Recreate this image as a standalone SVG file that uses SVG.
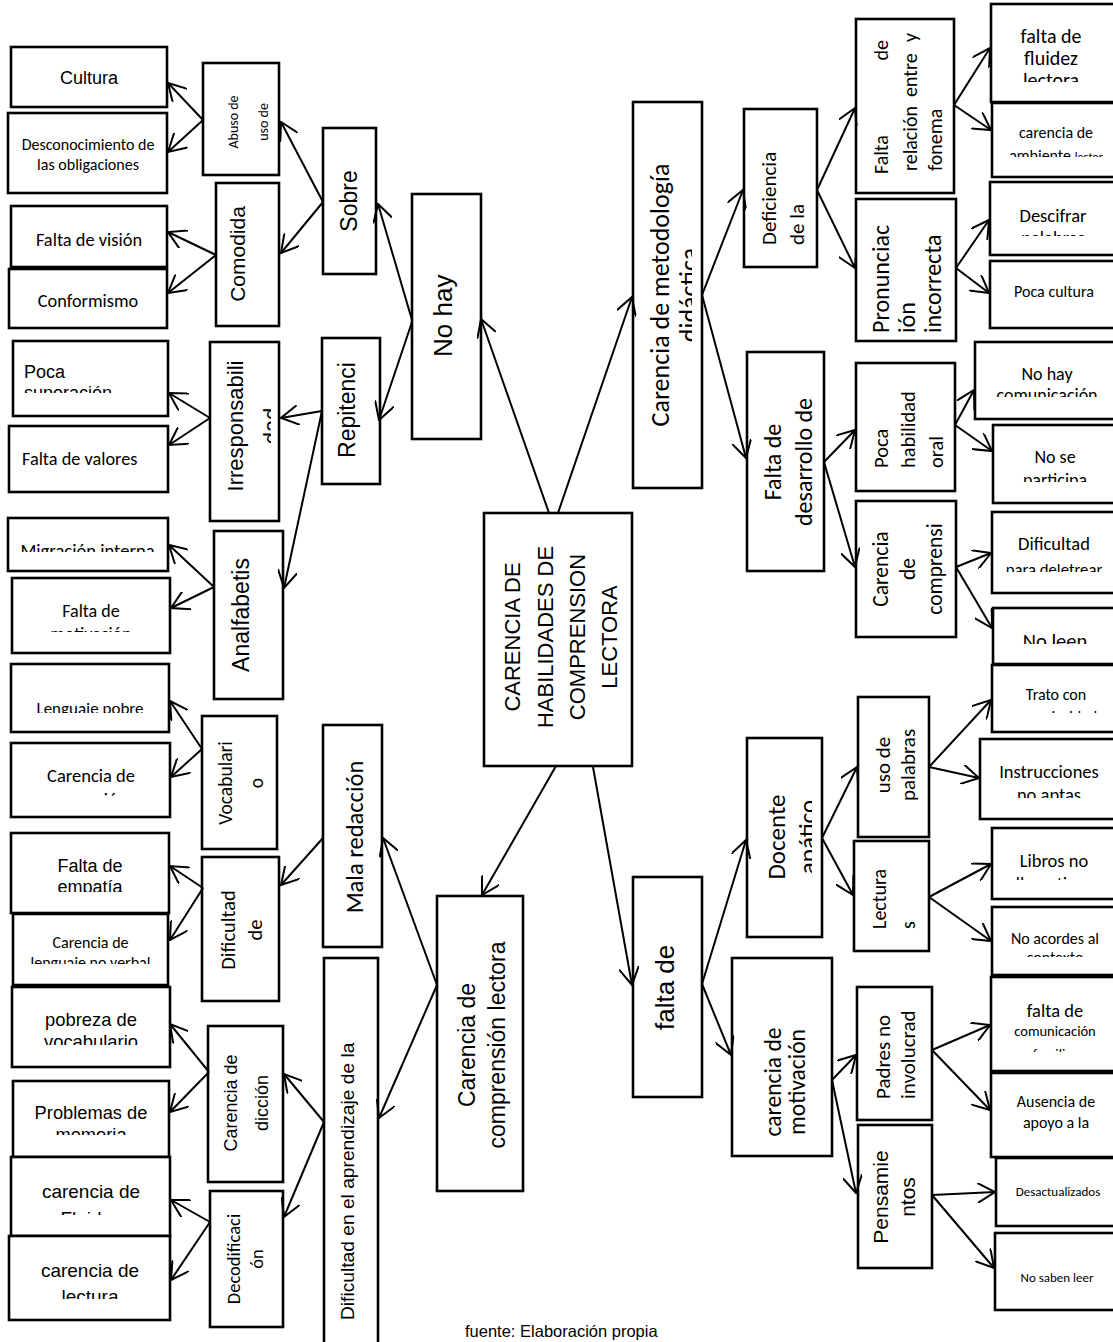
<svg xmlns="http://www.w3.org/2000/svg" width="1113" height="1342" viewBox="0 0 1113 1342">
<style>
.b{fill:#fff;stroke:#000;stroke-width:2.6}
.a{font-family:"Liberation Sans",Arial,sans-serif;fill:#000}
.c{font-family:Carlito,Calibri,Lato,"Liberation Sans",sans-serif;fill:#000}
.m{text-anchor:middle}
.s{text-anchor:start}
#connectors line{stroke:#000;stroke-width:2;fill:none;marker-end:url(#ah)}
</style>
<defs>
<marker id="ah" viewBox="0 0 19 20" refX="17.5" refY="10" markerWidth="19" markerHeight="20" markerUnits="userSpaceOnUse" orient="auto">
<path d="M0,0 L17.5,10 L0,20" fill="none" stroke="#000" stroke-width="2"/>
</marker>
<clipPath id="cp1"><rect x="13" y="341" width="155" height="52"/></clipPath>
<clipPath id="cp2"><rect x="8" y="518" width="160" height="34"/></clipPath>
<clipPath id="cp3"><rect x="12" y="578" width="158" height="54"/></clipPath>
<clipPath id="cp4"><rect x="11" y="664" width="158" height="49"/></clipPath>
<clipPath id="cp5"><rect x="11" y="743" width="159" height="54"/></clipPath>
<clipPath id="cp6"><rect x="11" y="833" width="158" height="59"/></clipPath>
<clipPath id="cp7"><rect x="13" y="914" width="155" height="50"/></clipPath>
<clipPath id="cp8"><rect x="12" y="987" width="158" height="58"/></clipPath>
<clipPath id="cp9"><rect x="13" y="1081" width="156" height="54"/></clipPath>
<clipPath id="cp10"><rect x="11" y="1157" width="159" height="58"/></clipPath>
<clipPath id="cp11"><rect x="9" y="1236" width="161" height="63"/></clipPath>
<clipPath id="cp12"><rect x="210" y="342" width="61" height="179"/></clipPath>
<clipPath id="cp13"><rect x="633" y="102" width="59" height="386"/></clipPath>
<clipPath id="cp14"><rect x="991" y="4" width="125" height="78"/></clipPath>
<clipPath id="cp15"><rect x="992" y="103" width="124" height="54"/></clipPath>
<clipPath id="cp16"><rect x="990" y="182" width="126" height="54"/></clipPath>
<clipPath id="cp17"><rect x="975" y="342" width="141" height="55"/></clipPath>
<clipPath id="cp18"><rect x="993" y="425" width="123" height="57"/></clipPath>
<clipPath id="cp19"><rect x="992" y="512" width="124" height="60"/></clipPath>
<clipPath id="cp20"><rect x="993" y="608" width="123" height="36"/></clipPath>
<clipPath id="cp21"><rect x="992" y="665" width="124" height="48"/></clipPath>
<clipPath id="cp22"><rect x="747" y="738" width="65" height="199"/></clipPath>
<clipPath id="cp23"><rect x="980" y="739" width="136" height="59"/></clipPath>
<clipPath id="cp24"><rect x="992" y="828" width="124" height="52"/></clipPath>
<clipPath id="cp25"><rect x="992" y="907" width="124" height="50"/></clipPath>
<clipPath id="cp26"><rect x="991" y="977" width="125" height="75"/></clipPath>
</defs>
<rect x="0" y="0" width="1113" height="1342" fill="#fff"/>

<g id="n-center"><rect class="b" x="484" y="513" width="148" height="253"/>
<text class="a m" font-size="22" transform="translate(520,637) rotate(-90)">CARENCIA DE</text>
<text class="a m" font-size="22" transform="translate(553,637) rotate(-90)">HABILIDADES DE</text>
<text class="a m" font-size="22" transform="translate(585,637) rotate(-90)">COMPRENSION</text>
<text class="a m" font-size="22" transform="translate(617,637) rotate(-90)">LECTORA</text></g>

<g id="n-nohay"><rect class="b" x="412" y="194" width="69" height="245"/>
<text class="a s" font-size="26" transform="translate(452,357) rotate(-90)">No hay</text></g>

<g id="n-sobre"><rect class="b" x="323" y="128" width="53" height="146"/>
<text class="a m" font-size="23" transform="translate(357,201) rotate(-90)">Sobre</text></g>

<g id="n-abuso"><rect class="b" x="203" y="63" width="76" height="112"/>
<text class="c m" font-size="14" transform="translate(238,122) rotate(-90)">Abuso de</text>
<text class="c m" font-size="14" transform="translate(268,122) rotate(-90)">uso de</text></g>

<g id="n-cultura"><rect class="b" x="11" y="47" width="156" height="60"/>
<text class="a m" font-size="18" x="89" y="84">Cultura</text></g>

<g id="n-descon"><rect class="b" x="8" y="113" width="159" height="80"/>
<text class="c m" font-size="16" x="88" y="150">Desconocimiento de</text>
<text class="c m" font-size="16" x="88" y="170">las obligaciones</text></g>

<g id="n-comodida"><rect class="b" x="216" y="183" width="63" height="143"/>
<text class="a m" font-size="21" transform="translate(245,254) rotate(-90)">Comodida</text></g>

<g id="n-vision"><rect class="b" x="11" y="206" width="156" height="61"/>
<text class="c m" font-size="18.4" x="89" y="246">Falta de visión</text></g>

<g id="n-conformismo"><rect class="b" x="9" y="269" width="158" height="59"/>
<text class="c m" font-size="18.3" x="88" y="307">Conformismo</text></g>

<g id="n-repitenci"><rect class="b" x="322" y="338" width="58" height="146"/>
<text class="a m" font-size="23" transform="translate(355,410) rotate(-90)">Repitenci</text></g>

<g id="n-irresp"><rect class="b" x="210" y="342" width="69" height="179"/>
<g clip-path="url(#cp12)">
<text class="a m" font-size="22" transform="translate(243,426) rotate(-90)">Irresponsabili</text>
<text class="a m" font-size="22" transform="translate(279,426) rotate(-90)">dad</text></g></g>

<g id="n-pocasup"><rect class="b" x="13" y="341" width="155" height="75"/>
<g clip-path="url(#cp1)">
<text class="a s" font-size="18" x="24" y="378">Poca</text>
<text class="a s" font-size="18" x="24" y="399">superación</text></g></g>

<g id="n-valores"><rect class="b" x="9" y="426" width="159" height="66"/>
<text class="c s" font-size="18.3" x="22" y="465">Falta de valores</text></g>

<g id="n-analfa"><rect class="b" x="214" y="531" width="69" height="168"/>
<text class="a m" font-size="23" transform="translate(249,615) rotate(-90)">Analfabetis</text></g>

<g id="n-migracion"><rect class="b" x="8" y="518" width="160" height="53"/>
<g clip-path="url(#cp2)"><text class="c m" font-size="18.6" x="87.5" y="557">Migración interna</text></g></g>

<g id="n-faltamotiv"><rect class="b" x="12" y="578" width="158" height="75"/>
<g clip-path="url(#cp3)">
<text class="c m" font-size="18" x="91" y="617">Falta de</text>
<text class="c m" font-size="18" x="91" y="640">motivación</text></g></g>

<g id="n-lengpobre"><rect class="b" x="11" y="664" width="158" height="68"/>
<g clip-path="url(#cp4)"><text class="c m" font-size="17" x="90" y="714">Lenguaje pobre</text></g></g>

<g id="n-carexpr"><rect class="b" x="11" y="743" width="159" height="74"/>
<g clip-path="url(#cp5)">
<text class="c m" font-size="18.5" x="91" y="782">Carencia de</text>
<text class="c m" font-size="18.5" x="91" y="806">expresión</text></g></g>

<g id="n-vocab"><rect class="b" x="202" y="716" width="75" height="133"/>
<text class="c m" font-size="19.5" transform="translate(232,783) rotate(-90)">Vocabulari</text>
<text class="c m" font-size="19.5" transform="translate(263,783) rotate(-90)">o</text></g>

<g id="n-mala"><rect class="b" x="323" y="725" width="59" height="222"/>
<text class="c m" font-size="24.5" transform="translate(363,837) rotate(-90)">Mala redacción</text></g>

<g id="n-empatia"><rect class="b" x="11" y="833" width="158" height="80"/>
<g clip-path="url(#cp6)">
<text class="a m" font-size="18" x="90" y="872">Falta de</text>
<text class="a m" font-size="18" x="90" y="893">empatía</text></g></g>

<g id="n-carleng"><rect class="b" x="13" y="914" width="155" height="71"/>
<g clip-path="url(#cp7)">
<text class="c m" font-size="16" x="90.5" y="948">Carencia de</text>
<text class="c m" font-size="16" x="90.5" y="968">lenguaje no verbal</text></g></g>

<g id="n-difde"><rect class="b" x="202" y="857" width="77" height="144"/>
<text class="c m" font-size="20.5" transform="translate(235,930) rotate(-90)">Dificultad</text>
<text class="c m" font-size="20.5" transform="translate(262,930) rotate(-90)">de</text></g>

<g id="n-pobreza"><rect class="b" x="12" y="987" width="158" height="80"/>
<g clip-path="url(#cp8)">
<text class="a m" font-size="18.4" x="91" y="1026">pobreza de</text>
<text class="a m" font-size="18.4" x="91" y="1048">vocabulario</text></g></g>

<g id="n-problemas"><rect class="b" x="13" y="1081" width="156" height="76"/>
<g clip-path="url(#cp9)">
<text class="a m" font-size="18.3" x="91" y="1119">Problemas de</text>
<text class="a m" font-size="18.3" x="91" y="1141">memoria</text></g></g>

<g id="n-carfluidez"><rect class="b" x="11" y="1157" width="159" height="79"/>
<g clip-path="url(#cp10)">
<text class="a m" font-size="19" x="91" y="1198">carencia de</text>
<text class="a m" font-size="19" x="91" y="1225">Fluidez</text></g></g>

<g id="n-carlectura"><rect class="b" x="9" y="1236" width="161" height="84"/>
<g clip-path="url(#cp11)">
<text class="a m" font-size="19" x="90" y="1277">carencia de</text>
<text class="a m" font-size="19" x="90" y="1303">lectura</text></g></g>

<g id="n-diccion"><rect class="b" x="208" y="1026" width="75" height="156"/>
<text class="a m" font-size="18" transform="translate(237,1103) rotate(-90)">Carencia de</text>
<text class="a m" font-size="18" transform="translate(268,1103) rotate(-90)">dicción</text></g>

<g id="n-decod"><rect class="b" x="210" y="1191" width="73" height="136"/>
<text class="c m" font-size="18.5" transform="translate(240,1259) rotate(-90)">Decodificaci</text>
<text class="c m" font-size="18.5" transform="translate(263,1259) rotate(-90)">ón</text></g>

<g id="n-difaprend"><rect class="b" x="324" y="958" width="54" height="400"/>
<text class="a s" font-size="19.2" transform="translate(354,1320) rotate(-90)">Dificultad en el aprendizaje de la</text></g>

<g id="n-ccl"><rect class="b" x="437" y="896" width="86" height="295"/>
<text class="a m" font-size="23" transform="translate(475,1045) rotate(-90)">Carencia de</text>
<text class="a m" font-size="23" transform="translate(505,1045) rotate(-90)">comprensión lectora</text></g>

<g id="n-metod"><rect class="b" x="633" y="102" width="69" height="386"/>
<g clip-path="url(#cp13)">
<text class="c m" font-size="26" transform="translate(669,295) rotate(-90)">Carencia de metodología</text>
<text class="c m" font-size="26" transform="translate(698,295) rotate(-90)">didáctica</text></g></g>

<g id="n-defic"><rect class="b" x="744" y="109" width="73" height="158"/>
<text class="c s" font-size="21" transform="translate(776,245) rotate(-90)">Deficiencia</text>
<text class="c s" font-size="21" transform="translate(804,245) rotate(-90)">de la</text></g>

<g id="n-faltarel"><rect class="b" x="856" y="19" width="98" height="174"/>
<text class="c s" font-size="20" transform="translate(888,174) rotate(-90)">Falta</text>
<text class="c" font-size="20" text-anchor="end" transform="translate(888,40) rotate(-90)">de</text>
<text class="c s" font-size="20" transform="translate(917,171) rotate(-90)">relación</text>
<text class="c s" font-size="20" transform="translate(917,97) rotate(-90)">entre</text>
<text class="c" font-size="20" text-anchor="end" transform="translate(917,33) rotate(-90)">y</text>
<text class="c s" font-size="20" transform="translate(942,171) rotate(-90)">fonema</text></g>

<g id="n-pronun"><rect class="b" x="856" y="199" width="100" height="142"/>
<text class="c s" font-size="24" transform="translate(889,333) rotate(-90)">Pronunciac</text>
<text class="c s" font-size="24" transform="translate(915,333) rotate(-90)">ión</text>
<text class="c s" font-size="24" transform="translate(941,333) rotate(-90)">incorrecta</text></g>

<g id="n-fluidez"><rect class="b" x="991" y="4" width="125" height="98"/>
<g clip-path="url(#cp14)">
<text class="c m" font-size="20" x="1051" y="43">falta de</text>
<text class="c m" font-size="20" x="1051" y="65">fluidez</text>
<text class="c m" font-size="20" x="1051" y="87">lectora</text></g></g>

<g id="n-ambiente"><rect class="b" x="992" y="103" width="124" height="74"/>
<g clip-path="url(#cp15)">
<text class="c m" font-size="16" x="1056" y="138">carencia de</text>
<text class="c m" font-size="16" x="1056" y="161">ambiente <tspan font-size="12">lector</tspan></text></g></g>

<g id="n-descifrar"><rect class="b" x="990" y="182" width="126" height="73"/>
<g clip-path="url(#cp16)">
<text class="c m" font-size="18.5" x="1053" y="222">Descifrar</text>
<text class="c m" font-size="18.5" x="1053" y="244">palabras</text></g></g>

<g id="n-pocacultura"><rect class="b" x="990" y="261" width="126" height="67"/>
<text class="c m" font-size="16" x="1054" y="297">Poca cultura</text></g>

<g id="n-faltadesarr"><rect class="b" x="747" y="352" width="77" height="219"/>
<text class="c m" font-size="24" transform="translate(781,462) rotate(-90)">Falta de</text>
<text class="c m" font-size="24" transform="translate(812,462) rotate(-90)">desarrollo de</text></g>

<g id="n-pocahab"><rect class="b" x="856" y="363" width="99" height="128"/>
<text class="c s" font-size="20.5" transform="translate(888,468) rotate(-90)">Poca</text>
<text class="c s" font-size="20.5" transform="translate(915,468) rotate(-90)">habilidad</text>
<text class="c s" font-size="20.5" transform="translate(943,468) rotate(-90)">oral</text></g>

<g id="n-nohaycom"><rect class="b" x="975" y="342" width="141" height="77"/>
<g clip-path="url(#cp17)">
<text class="c m" font-size="18" x="1047" y="380">No hay</text>
<text class="c m" font-size="18" x="1047" y="401">comunicación</text></g></g>

<g id="n-nose"><rect class="b" x="993" y="425" width="123" height="78"/>
<g clip-path="url(#cp18)">
<text class="c m" font-size="18" x="1055" y="463">No se</text>
<text class="c m" font-size="18" x="1055" y="486">participa</text></g></g>

<g id="n-carcompr"><rect class="b" x="856" y="501" width="100" height="136"/>
<text class="c m" font-size="21.5" transform="translate(888,569) rotate(-90)">Carencia</text>
<text class="c m" font-size="21.5" transform="translate(915,569) rotate(-90)">de</text>
<text class="c m" font-size="21.5" transform="translate(942,569) rotate(-90)">comprensi</text></g>

<g id="n-deletrear"><rect class="b" x="992" y="512" width="124" height="81"/>
<g clip-path="url(#cp19)">
<text class="c m" font-size="18.5" x="1054" y="550">Dificultad</text>
<text class="c m" font-size="16.7" x="1054" y="575">para deletrear</text></g></g>

<g id="n-noleen"><rect class="b" x="993" y="608" width="123" height="56"/>
<g clip-path="url(#cp20)"><text class="c m" font-size="20.5" x="1055" y="648">No leen</text></g></g>

<g id="n-trato"><rect class="b" x="992" y="665" width="124" height="67"/>
<g clip-path="url(#cp21)">
<text class="c m" font-size="16" x="1056" y="700">Trato con</text>
<text class="c m" font-size="16" x="1056" y="722">superioridad</text></g></g>

<g id="n-faltade"><rect class="b" x="633" y="877" width="69" height="220"/>
<text class="a s" font-size="26" transform="translate(674,1030) rotate(-90)">falta de</text></g>

<g id="n-docente"><rect class="b" x="747" y="738" width="75" height="199"/>
<g clip-path="url(#cp22)">
<text class="c m" font-size="25" transform="translate(785,837) rotate(-90)">Docente</text>
<text class="c m" font-size="25" transform="translate(816,837) rotate(-90)">apático</text></g></g>

<g id="n-usopal"><rect class="b" x="858" y="697" width="71" height="140"/>
<text class="c m" font-size="21" transform="translate(890,765) rotate(-90)">uso de</text>
<text class="c m" font-size="21" transform="translate(915,765) rotate(-90)">palabras</text></g>

<g id="n-lecturas"><rect class="b" x="854" y="841" width="75" height="110"/>
<text class="c s" font-size="20" transform="translate(886,929) rotate(-90)">Lectura</text>
<text class="c s" font-size="20" transform="translate(915,929) rotate(-90)">s</text></g>

<g id="n-instr"><rect class="b" x="980" y="739" width="136" height="80"/>
<g clip-path="url(#cp23)">
<text class="c m" font-size="18.5" x="1049" y="778">Instrucciones</text>
<text class="c m" font-size="18.5" x="1049" y="801">no aptas</text></g></g>

<g id="n-libros"><rect class="b" x="992" y="828" width="124" height="71"/>
<g clip-path="url(#cp24)">
<text class="c m" font-size="18.5" x="1054" y="867">Libros no</text>
<text class="c m" font-size="18.5" x="1054" y="890">llamativos</text></g></g>

<g id="n-noacordes"><rect class="b" x="992" y="907" width="124" height="68"/>
<g clip-path="url(#cp25)">
<text class="c m" font-size="16" x="1055" y="944">No acordes al</text>
<text class="c m" font-size="16" x="1055" y="963">contexto</text></g></g>

<g id="n-carmotiv"><rect class="b" x="732" y="958" width="100" height="198"/>
<text class="c m" font-size="23.5" transform="translate(781,1082) rotate(-90)">carencia de</text>
<text class="c m" font-size="23.5" transform="translate(805,1082) rotate(-90)">motivación</text></g>

<g id="n-padres"><rect class="b" x="857" y="987" width="75" height="133"/>
<text class="c s" font-size="21" transform="translate(890,1099) rotate(-90)">Padres no</text>
<text class="c s" font-size="21" transform="translate(915,1099) rotate(-90)">involucrad</text></g>

<g id="n-pensam"><rect class="b" x="858" y="1125" width="74" height="143"/>
<text class="a m" font-size="21" transform="translate(888,1197) rotate(-90)">Pensamie</text>
<text class="a m" font-size="21" transform="translate(915,1197) rotate(-90)">ntos</text></g>

<g id="n-faltacom"><rect class="b" x="991" y="977" width="125" height="94"/>
<g clip-path="url(#cp26)">
<text class="c m" font-size="18.5" x="1055" y="1017">falta de</text>
<text class="c m" font-size="14.5" x="1055" y="1036">comunicación</text>
<text class="c m" font-size="14.5" x="1055" y="1059">familiar</text></g></g>

<g id="n-ausencia"><rect class="b" x="991" y="1073" width="125" height="84"/>
<text class="c m" font-size="16" x="1056" y="1107">Ausencia de</text>
<text class="c m" font-size="16" x="1056" y="1128">apoyo a la</text></g>

<g id="n-desact"><rect class="b" x="996" y="1158" width="120" height="68"/>
<text class="c m" font-size="13" x="1058" y="1196">Desactualizados</text></g>

<g id="n-nosaben"><rect class="b" x="995" y="1233" width="121" height="77"/>
<text class="c m" font-size="13" x="1057" y="1282">No saben leer</text></g>

<g id="footer"><text class="a s" font-size="16.5" x="465" y="1337">fuente: Elaboración propia</text></g>

<g id="connectors">
<line x1="549" y1="513" x2="481" y2="319"/>
<line x1="412" y1="320" x2="378" y2="204"/>
<line x1="412" y1="322" x2="379" y2="420"/>
<line x1="323" y1="202" x2="281" y2="122"/>
<line x1="323" y1="202" x2="281" y2="253"/>
<line x1="203" y1="120" x2="168" y2="83"/>
<line x1="203" y1="120" x2="168" y2="152"/>
<line x1="216" y1="255" x2="168" y2="232"/>
<line x1="216" y1="255" x2="168" y2="293"/>
<line x1="322" y1="411" x2="281" y2="418"/>
<line x1="322" y1="411" x2="284" y2="588"/>
<line x1="210" y1="418" x2="169" y2="393"/>
<line x1="210" y1="418" x2="169" y2="445"/>
<line x1="214" y1="587" x2="169" y2="545"/>
<line x1="214" y1="587" x2="171" y2="608"/>
<line x1="556" y1="766" x2="482" y2="895"/>
<line x1="437" y1="985" x2="383" y2="838"/>
<line x1="437" y1="985" x2="379" y2="1118"/>
<line x1="323" y1="838" x2="281" y2="885"/>
<line x1="203" y1="888" x2="170" y2="866"/>
<line x1="203" y1="888" x2="170" y2="940"/>
<line x1="202" y1="749" x2="170" y2="701"/>
<line x1="202" y1="749" x2="171" y2="777"/>
<line x1="324" y1="1122" x2="284" y2="1074"/>
<line x1="324" y1="1122" x2="284" y2="1217"/>
<line x1="209" y1="1072" x2="170" y2="1024"/>
<line x1="209" y1="1072" x2="170" y2="1112"/>
<line x1="210" y1="1222" x2="171" y2="1200"/>
<line x1="210" y1="1222" x2="171" y2="1280"/>
<line x1="558" y1="513" x2="632" y2="297"/>
<line x1="702" y1="295" x2="743" y2="190"/>
<line x1="702" y1="295" x2="746" y2="458"/>
<line x1="817" y1="190" x2="855" y2="108"/>
<line x1="817" y1="190" x2="855" y2="268"/>
<line x1="954" y1="105" x2="990" y2="48"/>
<line x1="954" y1="105" x2="991" y2="130"/>
<line x1="956" y1="268" x2="989" y2="220"/>
<line x1="956" y1="268" x2="989" y2="293"/>
<line x1="824" y1="462" x2="855" y2="430"/>
<line x1="824" y1="462" x2="855" y2="567"/>
<line x1="955" y1="425" x2="974" y2="390"/>
<line x1="955" y1="425" x2="992" y2="451"/>
<line x1="956" y1="567" x2="991" y2="553"/>
<line x1="956" y1="567" x2="992" y2="628"/>
<line x1="593" y1="767" x2="632" y2="985"/>
<line x1="702" y1="984" x2="746" y2="840"/>
<line x1="702" y1="984" x2="731" y2="1055"/>
<line x1="822" y1="838" x2="857" y2="767"/>
<line x1="822" y1="838" x2="853" y2="895"/>
<line x1="929" y1="767" x2="991" y2="700"/>
<line x1="929" y1="767" x2="979" y2="778"/>
<line x1="929" y1="897" x2="991" y2="864"/>
<line x1="929" y1="897" x2="991" y2="941"/>
<line x1="832" y1="1080" x2="856" y2="1055"/>
<line x1="832" y1="1080" x2="856" y2="1193"/>
<line x1="932" y1="1050" x2="990" y2="1025"/>
<line x1="932" y1="1050" x2="990" y2="1110"/>
<line x1="932" y1="1195" x2="995" y2="1192"/>
<line x1="932" y1="1195" x2="994" y2="1268"/>
</g>
</svg>
